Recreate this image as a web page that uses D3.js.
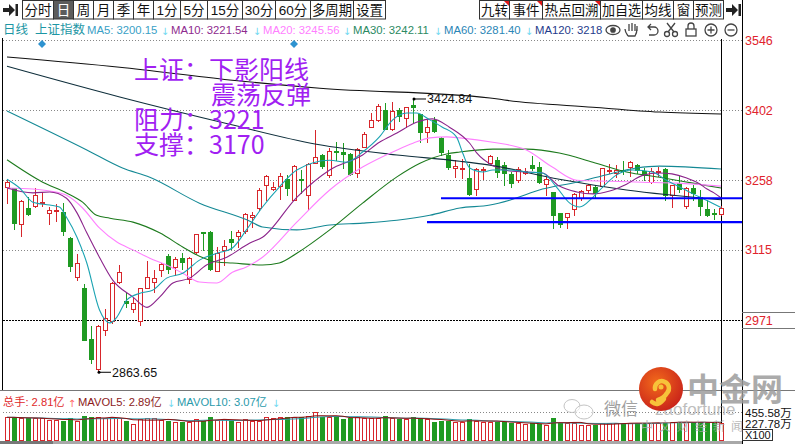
<!DOCTYPE html>
<html>
<head>
<meta charset="utf-8">
<script src="https://cdn.jsdelivr.net/npm/d3@7"></script>
<style>
  html, body { margin: 0; padding: 0; background: #fff; overflow: hidden; }
  svg { display: block; }
  text { font-family: "Liberation Sans", "Noto Sans CJK SC", sans-serif; }
  text.arrow { font-family: "DejaVu Sans", sans-serif; }
</style>
</head>
<body>
<svg id="chart" width="795" height="444"></svg>
<script>
// daily candles, oldest first
const candleOpen = [3244,3242,3168,3201,3205,3211,3191,3196,3193,3139,3059,3037,2932,2870,2950,2969,3049,3010,2994,2969,
  3037,3049,3074,3102,3080,3098,3055,3110,3152,3152,3071,3115,3137,3143,3154,3182,3201,3248,3240,3246,
  3260,3217,3260,3228,3293,3310,3269,3318,3316,3312,3273,3326,3367,3382,3402,3363,3402,3386,3412,3394,
  3357,3382,3345,3310,3283,3281,3262,3240,3279,3293,3299,3289,3271,3258,3273,3289,3285,3250,3234,3191,
  3182,3199,3221,3238,3244,3246,3277,3273,3279,3285,3289,3277,3254,3275,3281,3228,3252,3205,3242,3223,
  3199,3191,3188];
const candleHigh = [3260,3242,3217,3223,3242,3234,3203,3209,3211,3141,3106,3045,2958,2961,2993,3049,3084,3028,3016,3037,
  3092,3074,3088,3106,3100,3108,3100,3147,3152,3154,3121,3135,3154,3156,3191,3193,3242,3269,3254,3273,
  3269,3289,3279,3293,3361,3312,3324,3336,3334,3314,3324,3357,3396,3414,3416,3419,3406,3408,3424.84,3394,
  3382,3388,3347,3320,3299,3301,3291,3283,3285,3310,3306,3295,3275,3285,3283,3308,3295,3269,3234,3191,
  3191,3232,3238,3250,3248,3283,3291,3289,3297,3297,3291,3283,3283,3285,3283,3248,3267,3244,3248,3238,
  3217,3199,3205];
const candleLow = [3211,3158,3143,3186,3203,3205,3168,3174,3145,3071,3053,2930,2882,2863.65,2940,2965,3047,2998,2987,2961,
  3037,3028,3061,3067,3063,3076,3047,3108,3115,3074,3071,3084,3117,3121,3150,3162,3197,3217,3238,3219,
  3228,3217,3232,3199,3293,3283,3265,3299,3283,3269,3265,3326,3367,3380,3363,3361,3380,3367,3375,3336,
  3336,3357,3310,3281,3265,3262,3228,3228,3260,3293,3265,3248,3244,3254,3271,3279,3252,3228,3160,3162,
  3160,3186,3217,3232,3223,3244,3273,3265,3271,3267,3273,3258,3252,3267,3217,3203,3234,3201,3217,3186,
  3184,3178,3186];
const candleClose = [3254,3170,3215,3189,3228,3213,3197,3197,3154,3082,3088,2930,2891,2958,2975,3047,3069,3006,3006,3037,
  3059,3057,3086,3076,3096,3090,3098,3147,3150,3076,3108,3123,3131,3152,3188,3186,3238,3267,3244,3267,
  3242,3287,3258,3291,3306,3287,3318,3316,3312,3271,3322,3353,3382,3410,3363,3400,3390,3408,3408,3357,
  3367,3359,3316,3285,3287,3283,3230,3281,3281,3308,3275,3273,3252,3281,3277,3283,3254,3260,3186,3168,
  3191,3230,3236,3248,3232,3283,3279,3279,3277,3295,3279,3269,3277,3277,3228,3248,3240,3242,3232,3205,
  3186,3188,3201];
// volume, 亿手
const volume = [3.69,3.69,3.52,3.52,3.52,3.52,3.25,3.25,3.14,3.52,3.14,3.90,3.69,3.69,3.52,3.69,3.52,3.14,2.60,3.36,
  3.52,3.52,3.25,3.14,2.97,2.87,2.92,3.36,3.14,3.69,3.25,3.36,3.14,2.97,3.36,3.14,3.14,3.69,3.52,3.78,
  3.69,3.78,3.69,3.90,4.60,3.78,3.69,3.78,3.46,3.52,3.69,3.52,3.52,3.52,3.90,3.52,3.36,3.36,3.69,3.52,
  3.36,2.97,3.14,3.14,2.97,2.97,3.36,3.14,2.97,2.97,2.97,2.97,2.71,2.71,2.60,2.71,2.60,2.44,3.52,2.81,
  2.71,2.81,2.44,2.44,2.44,2.71,2.71,2.71,2.71,2.81,2.81,2.71,2.81,2.81,2.97,2.87,2.97,2.97,2.71,2.97,
  2.81,2.81,2.81];

// moving averages: [candle index, price]
const ma5 = [[0,3260],[1.8,3242],[3.7,3213],[6.1,3207],[7.5,3203],[8.5,3182],[10,3141],[11.4,3088],[13.2,2992],[14.7,2965],
  [15.7,2977],[17.1,3012],[19,3026],[20.8,3032],[22.8,3057],[25.1,3067],[27.5,3094],[30,3108],[32.2,3119],[34.2,3156],
  [36.5,3203],[38.9,3244],[41.4,3279],[46.1,3299],[48.5,3295],[50.8,3316],[53.2,3347],[55.1,3382],[57.1,3396],[58.5,3396],
  [60.4,3382],[62.2,3367],[64.2,3347],[65.1,3314],[66.1,3283],[68,3275],[69.4,3279],[71.8,3279],[74.2,3275],[76.5,3273],
  [78.5,3244],[80.4,3211],[81.8,3203],[83.7,3223],[85.1,3244],[87.1,3269],[89.4,3279],[92.2,3275],[94.2,3258],[96.1,3244],
  [98,3230],[99.9,3217],[102,3202]];
const ma10 = [[0,3242],[3.7,3232],[6.1,3234],[8.5,3221],[10,3191],[11.4,3150],[13.2,3100],[15.1,3053],[18,3018],[20,2997],
  [21.8,3018],[23.7,3047],[26.1,3057],[28.5,3084],[31.4,3100],[34.7,3129],[36.5,3141],[41.4,3223],[46.1,3279],[50.8,3310],
  [53.2,3336],[55.7,3355],[58.5,3377],[60.8,3384],[63.2,3367],[66.1,3334],[67.1,3314],[69.4,3288],[71.8,3277],[76.5,3273],
  [78.9,3246],[81.4,3234],[83.7,3230],[86.1,3236],[88.5,3250],[90.8,3268],[93.2,3273],[95,3271],[97,3263],[99,3250],
  [100,3240],[101,3232],[102,3222]];
const ma20 = [[0,3242],[3.7,3240],[6.1,3236],[8.5,3227],[10.8,3201],[13.2,3160],[15.7,3131],[18,3115],[20.4,3098],[22.8,3084],
  [25.1,3067],[27.5,3049],[30,3047],[32.2,3069],[34.2,3080],[36.5,3100],[41.4,3172],[46.1,3238],[50.8,3285],[55.7,3320],
  [58,3334],[60.4,3345],[62.8,3347],[64.7,3345],[69.4,3336],[74.2,3320],[77.9,3285],[81.4,3258],[86.1,3256],[90.8,3254],
  [95.7,3252],[102,3246]];
const ma30 = [[0,3300],[5.1,3254],[8.5,3232],[10.8,3213],[12.8,3186],[14.7,3180],[18,3172],[21.8,3150],[25.1,3121],[27.5,3102],
  [30,3090],[32.2,3088],[36.5,3084],[38.9,3088],[41.4,3108],[46.1,3156],[50.8,3211],[55.7,3265],[59,3293],[62.8,3312],
  [64.7,3316],[69.4,3322],[74.2,3322],[78.9,3314],[83.7,3295],[88.5,3275],[93.2,3264],[98,3252],[102,3242]];
const ma60 = [[0,3400],[11.4,3320],[16.5,3283],[20.4,3264],[27.5,3211],[34.7,3174],[36.5,3162],[41.4,3156],[46.1,3166],[50.8,3170],
  [55.7,3176],[60.4,3186],[64.7,3201],[69,3207],[71.8,3217],[76.5,3240],[81.4,3254],[86.1,3271],[89.9,3283],[93.2,3287],
  [102,3281]];
const ma120 = [[0,3492],[16.1,3429],[31.8,3373],[44.2,3332],[55.7,3310],[64.7,3297],[69,3289],[78.9,3260],[88.5,3238],[102,3218]];
const ma250 = [[0,3511],[16.1,3490],[31.8,3464],[44.7,3447],[69,3427],[71.5,3422],[83.7,3408],[93.2,3398],[102,3394]];

const priceTicks = [3546, 3402, 3258, 3115, 2971];
const volTicks = [4.5558, 2.2779];
const volTickLabels = ['455.58万', '227.78万'];
const resistance = 3221, support = 3172;
const resistanceFrom = 62, supportFrom = 60;
const eventIdx = [5, 41];
const highIdx = 58, lowIdx = 13;

const legendItems = [
  { text: 'MA5: 3200.15', color: '#3a9fc6' },
  { text: 'MA10: 3221.54', color: '#8e2a8e' },
  { text: 'MA20: 3245.56', color: '#ff7fff' },
  { text: 'MA30: 3242.11', color: '#2b8a62' },
  { text: 'MA60: 3281.40', color: '#2b86b6' },
  { text: 'MA120: 3218', color: '#1f3c8c' }
];
const volLegend = [
  { text: '总手: 2.81亿', color: '#e02a2a', arrow: '↑', arrowColor: '#ff6a6a' },
  { text: 'MAVOL5: 2.89亿', color: '#8b1a1a', arrow: '↓', arrowColor: '#6fd8f0' },
  { text: 'MAVOL10: 3.07亿', color: '#2a9aaa', arrow: '↓', arrowColor: '#6fd8f0' }
];
const leftButtons = ['分时', '日', '周', '月', '季', '年', '1分', '5分', '15分', '30分', '60分', '多周期', '设置'];
const rightButtons = ['九转', '事件', '热点回溯', '加自选', '均线', '窗', '预测'];
const noteLines = ['上证：下影阳线', '震荡反弹', '阻力：3221', '支撑：3170'];

const RED = '#d7262b', GREEN = '#1f9a22';
const svg = d3.select('#chart');

const x = d3.scaleLinear().domain([0, candleClose.length - 1]).range([7, 721]);
const y = d3.scaleLinear().domain([2971, 3546]).range([320, 40]);
const yv = d3.scaleLinear().domain([0, 4.5558]).range([440, 412]);
const idx = d3.range(candleClose.length);
const isUp = i => candleClose[i] >= candleOpen[i];

// ---- toolbar ----
const leftW = [31, 20, 20, 20, 20, 20, 27, 27, 35, 33, 35, 43, 32];
const rightW = [30, 33, 58, 42, 31, 20, 30];
const tb = svg.append('g');
function drawButtons(labels, widths, x0, marked) {
  let bx = x0;
  labels.forEach((t, k) => {
    const sel = t === '日';
    tb.append('rect').attr('x', bx + 0.5).attr('y', 0.5).attr('width', widths[k]).attr('height', 18.5)
      .attr('fill', sel ? '#5c5c5c' : '#fff').attr('stroke', '#333');
    const tt = tb.append('text').attr('x', bx + widths[k] / 2 + 0.5).attr('y', 15).attr('text-anchor', 'middle')
      .attr('font-size', 13.5).attr('fill', sel ? '#fff' : '#111').text(t);
    if (tt.node().getComputedTextLength() > widths[k] - 3) {
      tt.attr('textLength', widths[k] - 3).attr('lengthAdjust', 'spacingAndGlyphs');
    }
    if (marked && k < 3) {
      tb.append('path').attr('d', `M${bx + widths[k] - 5},1 L${bx + widths[k]},1 L${bx + widths[k]},6 Z`).attr('fill', '#e01818');
    }
    bx += widths[k];
  });
}
drawButtons(leftButtons, leftW, 22, false);
drawButtons(rightButtons, rightW, 479, true);
function arrowIcon(x0) {
  tb.append('path').attr('d', `M${x0 + 2},8 h6 v-4 l6,6 l-6,6 v-4 h-6 Z`).attr('fill', '#222');
  tb.append('rect').attr('x', x0 + 14.5).attr('y', 4).attr('width', 2.5).attr('height', 12).attr('fill', '#222');
}
arrowIcon(1);
arrowIcon(724);

// ---- legend row ----
const lg = svg.append('g').attr('font-size', 12.5);
lg.append('text').attr('x', 3).attr('y', 34).attr('fill', '#1c96a4').text('日线');
lg.append('text').attr('x', 35).attr('y', 34).attr('fill', '#1c96a4').text('上证指数');
svg.append('clipPath').attr('id', 'legclip').append('rect').attr('x', 0).attr('y', 20).attr('width', 604).attr('height', 20);
const lgc = lg.append('g').attr('clip-path', 'url(#legclip)');
const legX = [87, 171, 263, 353, 444, 535];
legendItems.forEach((d, k) => {
  lgc.append('text').attr('x', legX[k]).attr('y', 34).attr('font-size', 11.3).attr('fill', d.color).text(d.text);
  if (k < 5) lgc.append('text').attr('class', 'arrow').attr('x', legX[k + 1] - 6).attr('y', 35).attr('font-size', 10)
    .attr('text-anchor', 'middle').attr('fill', '#6fd8f0').text('↓');
});
// tool icons
const ic = svg.append('g').attr('fill', 'none').attr('stroke', '#444').attr('stroke-width', 1.3);
ic.append('ellipse').attr('cx', 613).attr('cy', 30).attr('rx', 7).attr('ry', 4.5);
ic.append('circle').attr('cx', 613).attr('cy', 30).attr('r', 2.2).attr('fill', '#444');
ic.append('path').attr('d', 'M628,36 q-3,-4 -3,-7 M628,36 h7 q2,-3 2,-8 v-2 M629,31 v-7 M632,31 v-8 M635,31 v-7 M637,31 v-4');
ic.append('path').attr('d', 'M648,27 h6 a4,4 0 0 1 0,8 h-5 M651,24 l-3,3 l3,3');
ic.append('circle').attr('cx', 667).attr('cy', 34).attr('r', 2.5);
ic.append('circle').attr('cx', 675).attr('cy', 34).attr('r', 2.5);
ic.append('path').attr('d', 'M668,32 L675,23 M674,32 L667,23');
ic.append('rect').attr('x', 686).attr('y', 29).attr('width', 10).attr('height', 7);
ic.append('path').attr('d', 'M688,29 v-3 a3,3 0 0 1 6,0 v3');
ic.append('circle').attr('cx', 711).attr('cy', 30).attr('r', 6);
ic.append('path').attr('d', 'M707.5,30 h7 M711,26.5 v7');
ic.append('circle').attr('cx', 731).attr('cy', 30).attr('r', 6);
ic.append('path').attr('d', 'M727.5,30 h7');

// ---- frame and grid ----
const fr = svg.append('g');
fr.append('line').attr('x1', 2.5).attr('x2', 2.5).attr('y1', 38).attr('y2', 390).attr('stroke', '#000');
fr.append('line').attr('x1', 742.5).attr('x2', 742.5).attr('y1', 0).attr('y2', 444).attr('stroke', '#000');
fr.append('line').attr('x1', 0).attr('x2', 795).attr('y1', 390.5).attr('y2', 390.5).attr('stroke', '#777');
priceTicks.forEach(v => {
  const last = v === priceTicks[priceTicks.length - 1];
  fr.append('line').attr('x1', 3).attr('x2', 742).attr('y1', Math.round(y(v)) + 0.5).attr('y2', Math.round(y(v)) + 0.5)
    .attr('stroke', last ? '#000' : '#888').attr('stroke-dasharray', last ? '2,1' : '1,2');
});
fr.append('line').attr('x1', 3).attr('x2', 742).attr('y1', Math.round(yv(volTicks[0])) + 0.5).attr('y2', Math.round(yv(volTicks[0])) + 0.5)
  .attr('stroke', '#888').attr('stroke-dasharray', '1,2');
fr.append('line').attr('x1', 742).attr('x2', 795).attr('y1', 312.5).attr('y2', 312.5).attr('stroke', '#777');
fr.append('line').attr('x1', 742).attr('x2', 795).attr('y1', 328.5).attr('y2', 328.5).attr('stroke', '#777');

// right price axis
const ax = svg.append('g').attr('transform', 'translate(742,0)')
  .call(d3.axisRight(y).tickValues(priceTicks).tickSize(0).tickPadding(3).tickFormat(d3.format('d')));
ax.select('.domain').remove();
ax.selectAll('text').attr('fill', '#e0232c').attr('font-size', 12.5).attr('font-family', '"Liberation Sans", sans-serif');

// crosshair on last bar
svg.append('line').attr('x1', 721.5).attr('x2', 721.5).attr('y1', 39).attr('y2', 441).attr('stroke', '#000');

// ---- candles ----
const cg = svg.append('g').attr('shape-rendering', 'crispEdges');
cg.selectAll('line').data(idx).join('line')
  .attr('x1', i => Math.round(x(i)) + 0.5).attr('x2', i => Math.round(x(i)) + 0.5)
  .attr('y1', i => Math.round(y(candleHigh[i]))).attr('y2', i => Math.round(y(candleLow[i])) + 1)
  .attr('stroke', i => isUp(i) ? RED : GREEN);
cg.selectAll('rect').data(idx).join('rect')
  .each(function (i) {
    const cx = Math.round(x(i));
    const top = Math.round(y(Math.max(candleOpen[i], candleClose[i])));
    const bot = Math.round(y(Math.min(candleOpen[i], candleClose[i])));
    const r = d3.select(this);
    if (isUp(i)) {
      r.attr('x', cx - 1.5).attr('y', top + 0.5).attr('width', 4).attr('height', Math.max(bot - top, 1))
        .attr('fill', '#fff').attr('stroke', RED);
    } else {
      r.attr('x', cx - 2).attr('y', top).attr('width', 5).attr('height', Math.max(bot - top, 1) + 1)
        .attr('fill', GREEN);
    }
  });

// ---- moving averages ----
const maLine = d3.line().x(d => x(d[0])).y(d => y(d[1])).curve(d3.curveMonotoneX);
const maSeries = [
  [ma250, '#111111'], [ma120, '#0f2f3c'], [ma60, '#148995'], [ma30, '#1d7a1d'],
  [ma20, '#ff80ff'], [ma10, '#8b238b'], [ma5, '#1aa3b2']
];
svg.append('g').selectAll('path').data(maSeries).join('path')
  .attr('d', d => maLine(d[0])).attr('fill', 'none').attr('stroke', d => d[1]).attr('stroke-width', 1.1);

// support / resistance
const sr = svg.append('g').attr('stroke', '#0000ff').attr('stroke-width', 2.2);
sr.append('line').attr('x1', x(resistanceFrom)).attr('x2', 742).attr('y1', y(resistance)).attr('y2', y(resistance));
sr.append('line').attr('x1', x(supportFrom)).attr('x2', 742).attr('y1', y(support)).attr('y2', y(support));

// high / low marks
[[highIdx, candleHigh[highIdx]], [lowIdx, candleLow[lowIdx]]].forEach(([i, v]) => {
  const px = x(i), py = y(v);
  svg.append('circle').attr('cx', px + 1).attr('cy', py).attr('r', 1.5).attr('fill', '#000');
  svg.append('line').attr('x1', px + 1).attr('x2', px + 13).attr('y1', py).attr('y2', py).attr('stroke', '#000');
  svg.append('text').attr('x', px + 14).attr('y', py + 4.5).attr('font-size', 12.5).attr('fill', '#111').text(d3.format('.2f')(v));
});

// event markers
svg.append('g').selectAll('path').data(eventIdx).join('path')
  .attr('d', i => `M${x(i)},40 l4,4 l-4,4 l-4,-4 Z`).attr('fill', '#2e93d0');

// annotation
const noteX = [134, 211, 134, 134];
const noteY = [79, 104, 129, 154];
svg.append('g').selectAll('text').data(noteLines).join('text')
  .attr('x', (d, k) => noteX[k]).attr('y', (d, k) => noteY[k])
  .attr('font-size', 25).attr('fill', '#a11ff2')
  .style('font-family', '"Noto Sans CJK SC", sans-serif').text(d => d);

// ---- volume ----
const vg = svg.append('g').attr('shape-rendering', 'crispEdges');
vg.selectAll('rect').data(idx).join('rect')
  .each(function (i) {
    const cx = Math.round(x(i));
    const top = Math.round(yv(volume[i]));
    const r = d3.select(this);
    if (isUp(i)) {
      r.attr('x', cx - 1.5).attr('y', top + 0.5).attr('width', 4).attr('height', 440 - top)
        .attr('fill', '#fff').attr('stroke', RED);
    } else {
      r.attr('x', cx - 2).attr('y', top).attr('width', 5).attr('height', 441 - top).attr('fill', GREEN);
    }
  });
const mavol = n => idx.map(i => [i, d3.mean(volume.slice(Math.max(0, i - n + 1), i + 1))]);
const vLine = d3.line().x(d => x(d[0])).y(d => yv(d[1]));
svg.append('path').attr('d', vLine(mavol(10))).attr('fill', 'none').attr('stroke', '#2a9aaa');
svg.append('path').attr('d', vLine(mavol(5))).attr('fill', 'none').attr('stroke', '#8b1010');

const vl = svg.append('g');
const volX = [3, 78, 177];
const arrowX = [72, 171, 276];
volLegend.forEach((d, k) => {
  vl.append('text').attr('x', volX[k]).attr('y', 406).attr('font-size', 11.2).attr('fill', d.color).text(d.text);
  vl.append('text').attr('class', 'arrow').attr('x', arrowX[k]).attr('y', 407).attr('font-size', 10)
    .attr('text-anchor', 'middle').attr('fill', d.arrowColor).text(d.arrow);
});

volTicks.forEach((v, k) => {
  svg.append('text').attr('x', 745).attr('y', yv(v) + (k === 0 ? 4.5 : 2)).attr('font-size', 11.5).attr('fill', '#111').text(volTickLabels[k]);
});
svg.append('rect').attr('x', 742.5).attr('y', 429.5).attr('width', 30).attr('height', 11).attr('fill', '#fff').attr('stroke', '#333');
svg.append('text').attr('x', 745).attr('y', 439).attr('font-size', 11).attr('fill', '#111').text('X100');

// bottom bar
svg.append('rect').attr('x', 0).attr('y', 441).attr('width', 742).attr('height', 3).attr('fill', '#a8a8a8');
svg.append('rect').attr('x', 0).attr('y', 441).attr('width', 53).attr('height', 3).attr('fill', '#777');

// ---- watermark ----
const wm = svg.append('g');
const grad = svg.append('defs').append('radialGradient').attr('id', 'logo').attr('cx', '40%').attr('cy', '35%').attr('r', '70%');
grad.append('stop').attr('offset', '0%').attr('stop-color', '#f26a1b');
grad.append('stop').attr('offset', '100%').attr('stop-color', '#c8211a');
wm.append('ellipse').attr('cx', 572).attr('cy', 406).attr('rx', 8).attr('ry', 6.5).attr('fill', 'none').attr('stroke', '#c4c4c4');
wm.append('ellipse').attr('cx', 584).attr('cy', 412).attr('rx', 9).attr('ry', 7).attr('fill', 'rgba(255,255,255,0.6)').attr('stroke', '#c4c4c4');
wm.append('text').attr('x', 604).attr('y', 415).attr('font-size', 17).attr('fill', '#8a8a8a').attr('opacity', 0.8).text('微信');
wm.append('text').attr('x', 655).attr('y', 415).attr('font-size', 17).attr('fill', '#8a8a8a').attr('opacity', 0.55).text('zaofortune');
wm.append('text').attr('x', 641).attr('y', 431).attr('font-size', 12).attr('letter-spacing', 6).attr('fill', '#aaa').attr('opacity', 0.8).text('中文财经新闻');
wm.append('circle').attr('cx', 661).attr('cy', 389).attr('r', 22).attr('fill', 'url(#logo)');
wm.append('path').attr('d', 'M664,399 q-6,8 -12,3 M655,389 a7,7 0 1 1 12,4 q-3,5 -9,7')
  .attr('fill', 'none').attr('stroke', '#f7c23a').attr('stroke-width', 4.5).attr('stroke-linecap', 'round');
wm.append('circle').attr('cx', 661).attr('cy', 387).attr('r', 2.5).attr('fill', '#f7c23a');
wm.append('text').attr('x', 687).attr('y', 401).attr('font-size', 32).attr('font-weight', 'bold')
  .style('font-family', '"Noto Sans CJK SC", sans-serif').attr('fill', '#9d9d9d').attr('opacity', 0.85).text('中金网');
</script>
</body>
</html>
